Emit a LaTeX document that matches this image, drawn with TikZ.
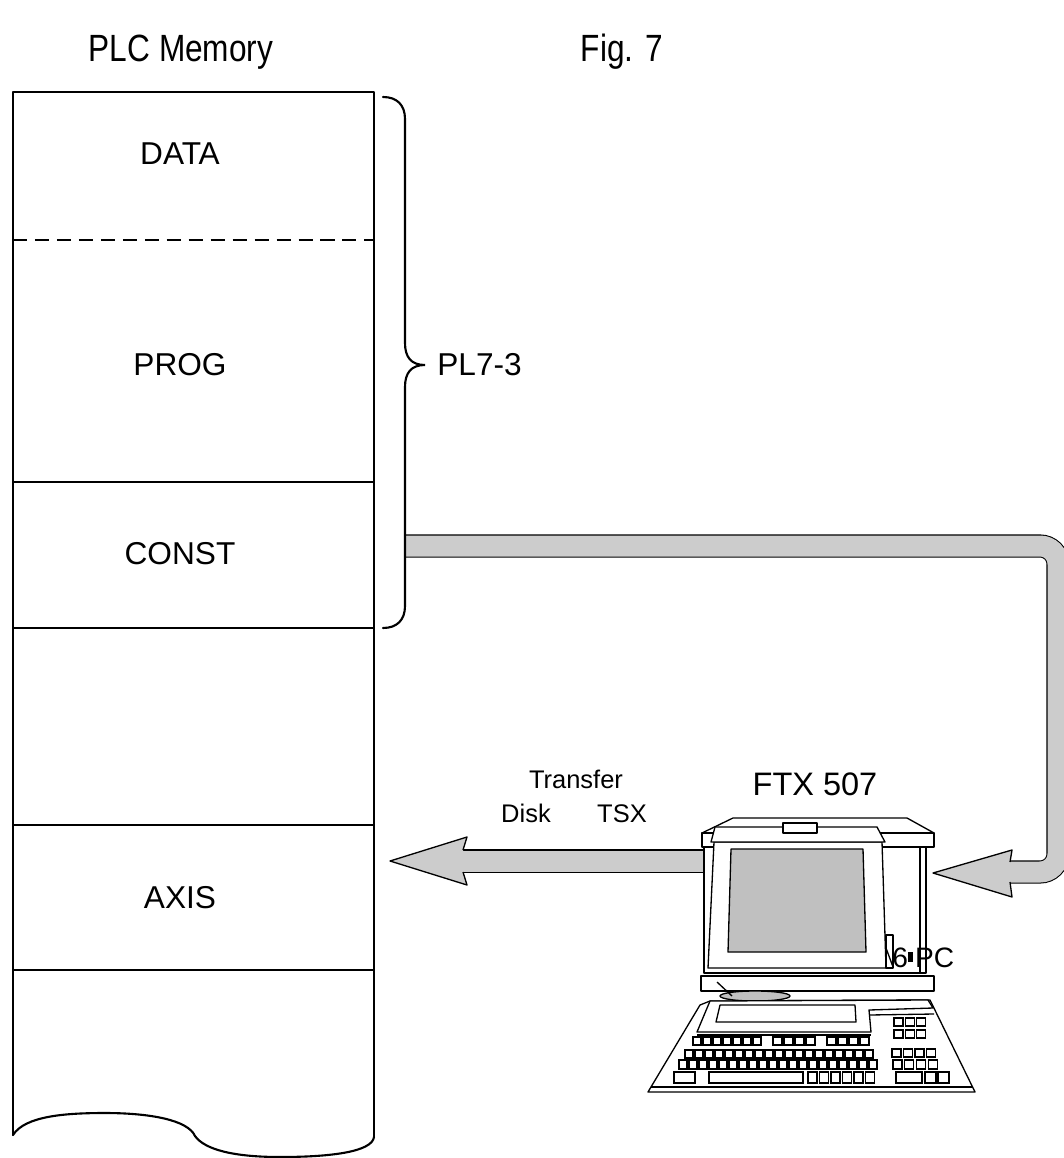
\documentclass[tikz,border=0pt]{standalone}
\usepackage{fontspec}
\setmainfont{Liberation Sans}
\usepackage{xcolor}
\usepackage{graphicx}
\usepackage{tikz}
\usetikzlibrary{positioning}
\definecolor{bandgray}{HTML}{CCCCCC}
\definecolor{screengray}{HTML}{C0C0C0}
\tikzset{
  memEdge/.style={draw=black, line width=1.2pt, line cap=round, line join=round},
  memSplit/.style={draw=black, line width=1.2pt},
  memLbl/.style={font=\fontsize{18}{21}\selectfont, anchor=base, inner sep=0pt},
  headLbl/.style={font=\fontsize{18}{21}\selectfont, anchor=base, inner sep=0pt},
  smallLbl/.style={font=\fontsize{14.5}{17}\selectfont, anchor=base, inner sep=0pt},
  braceLine/.style={draw=black, line width=1.2pt, line cap=round},
  band/.style={draw=black, line width=0.6pt, double=bandgray, double distance=0.42cm},
  bandHead/.style={fill=bandgray},
  pcEdge/.style={draw=black, line width=0.75pt, line join=round},
  pcFace/.style={pcEdge, fill=white},
  keycap/.style={draw=black, line width=0.7pt, fill=white},
}
% one row of keys: x0, y0, count, pitch, width, height
\newcommand{\KeyRow}[6]{%
  \foreach \k in {1,...,#3}
    \draw[keycap] ({#1+(\k-1)*#4},#2) rectangle ++(#5,#6);
}
% tall heading text
\newcommand{\TallText}[1]{\scalebox{1}[1.2]{#1}}

\begin{document}
\begin{tikzpicture}[x=0.02cm, y=-0.02cm]
  \useasboundingbox (0,0) rectangle (1063,1158);

  \node[headLbl] (title) at (181,62) {\TallText{PLC Memory}};
  \node[headLbl] (fig)   at (622,62) {\TallText{Fig. 7}};

  % memory column with torn bottom
  \draw[memEdge] (13,1135) -- (13,92) -- (374,92) -- (374,1137);
  \draw[memEdge] (13,1135) .. controls (25,1116) and (65,1113) .. (105,1113)
    .. controls (150,1113) and (188,1120) .. (195,1136)
    .. controls (205,1150) and (235,1157) .. (280,1157)
    .. controls (330,1157) and (372,1152) .. (374,1137);
  \draw[memSplit, dash pattern=on 8pt off 4.5pt] (13,240) -- (374,240);
  \foreach \y in {482,628,825,970}
    \draw[memSplit] (13,\y) -- (374,\y);

  \node[memLbl] (data)  at (180,165) {DATA};
  \node[memLbl] (prog)  at (180,376) {PROG};
  \node[memLbl] (const) at (180,564) {CONST};
  \node[memLbl] (axis)  at (180,908) {AXIS};

  % connector coordinates
  \coordinate (constOut) at (405,546);
  \coordinate (bendA) at (1058,546);
  \coordinate (bendB) at (1058,872);
  \coordinate (headR) at (1010,872);
  \coordinate (pcOut) at (703,861);
  \coordinate (headL) at (463,861);

  % load path back into the PC
  \draw[band, rounded corners=0.36cm] (constOut) -- (bendA) -- (bendB) -- (headR);
  \fill[bandHead] (1010,862) -- (1012,850) -- (933,873) -- (1012,897) -- (1010,882) -- cycle;
  \draw[pcEdge] (1010,862) -- (1012,850) -- (933,873) -- (1012,897) -- (1010,882);

  % transfer to the PLC
  \draw[band] (pcOut) -- (headL);
  \fill[bandHead] (463,850) -- (467,837) -- (390,861) -- (467,885) -- (463,872) -- cycle;
  \draw[pcEdge] (463,850) -- (467,837) -- (390,861) -- (467,885) -- (463,872);

  % brace
  \draw[braceLine] (383,97) .. controls (397,97) and (405,105) .. (405,119)
    -- (405,343) .. controls (405,357) and (411,365) .. (425,365)
    .. controls (411,365) and (405,373) .. (405,387)
    -- (405,606) .. controls (405,620) and (397,628) .. (383,628);
  \node[memLbl, anchor=west] (pl7) at (437,365) {PL7-3};

  \node[smallLbl] (transfer) at (576,788) {Transfer};
  \node[smallLbl] (disk)     at (526,822) {Disk};
  \node[smallLbl] (tsx)      at (622,822) {TSX};
  \node[font=\fontsize{18.5}{22}\selectfont, anchor=base, inner sep=0pt] (ftx) at (815,795) {FTX 507};

  % monitor
  \draw[pcFace] (704,847) rectangle (926,973);
  \draw[pcEdge] (920,847) -- (920,973);
  \draw[pcFace] (733,818) -- (907,818) -- (934,833) -- (702,833) -- cycle;
  \draw[pcFace] (702,833) rectangle (934,847);
  \draw[pcFace] (714,842) -- (882,842) -- (886,968) -- (708,968) -- cycle;
  \draw[pcFace] (715,827) -- (877,827) -- (885,842) -- (711,842) -- cycle;
  \draw[pcFace] (783,823) rectangle (817,833);
  \draw[pcEdge, fill=screengray] (731,849) -- (863,849) -- (866,952) -- (728,952) -- cycle;
  \draw[pcFace] (886,935) rectangle (893,968);
  \draw[pcEdge] (886,948) -- (893,967);
  \node[font=\fontsize{16}{19}\selectfont, anchor=base west, inner sep=0pt] (cpu) at (892,967)
    {6\rule[2.8pt]{2.8pt}{5.7pt}\hspace{1.2pt}PC};

  % base and stand
  \draw[pcFace] (701,976) rectangle (934,991);
  \draw[pcEdge, fill=screengray] (755,996) ellipse [x radius=35, y radius=5];
  \draw[pcEdge] (717,982) -- (732,996);

  % keyboard
  \draw[pcFace] (648,1092) -- (700,1005) -- (710,1001) -- (930,1000) -- (975,1092) -- cycle;
  \draw[pcEdge] (651,1087) -- (973,1087);
  \draw[pcFace] (710,1001) -- (928,1000) -- (933,1008) -- (869,1010) -- (871,1032) -- (697,1032) -- cycle;
  \draw[pcEdge] (869,1015) -- (934,1014);
  \draw[pcEdge] (697,1035) -- (871,1035);
  \draw[pcEdge] (720,1005) -- (855,1005) -- (856,1022) -- (716,1022) -- cycle;

  \KeyRow{693}{1037}{7}{10}{8}{8}
  \KeyRow{773}{1037}{4}{11}{9}{8}
  \KeyRow{827}{1037}{4}{11}{9}{8}
  \KeyRow{685}{1050}{19}{10}{8}{8}
  \KeyRow{679}{1060}{20}{10}{8}{9}
  \draw[keycap] (674,1072) rectangle (695,1083);
  \draw[keycap] (709,1072) rectangle (803,1083);
  \KeyRow{808}{1072}{6}{11.5}{9}{11}

  \KeyRow{894}{1018}{3}{11.3}{9}{8}
  \KeyRow{894}{1030}{3}{11.3}{9}{8}
  \KeyRow{892}{1049}{4}{11.5}{9}{8}
  \KeyRow{893}{1060}{4}{11.7}{9}{9}
  \draw[keycap] (896,1072) rectangle (922,1083);
  \KeyRow{925}{1072}{2}{13}{11}{11}
\end{tikzpicture}
\end{document}
